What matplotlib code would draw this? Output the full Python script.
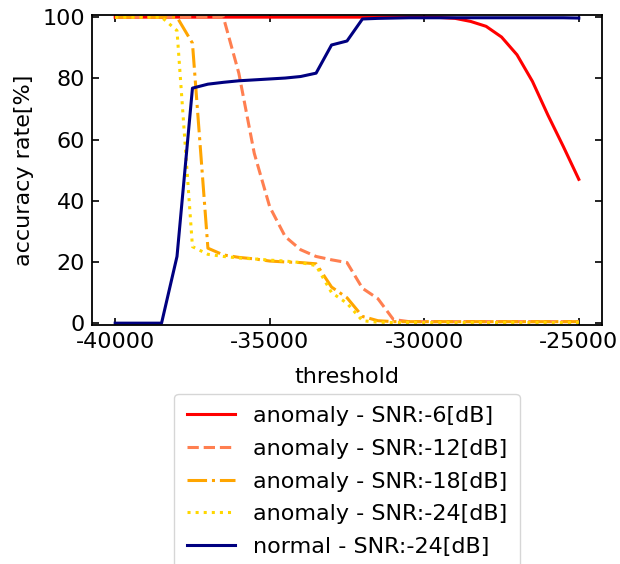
import matplotlib
matplotlib.use("Agg")
import matplotlib.pyplot as plt
import numpy as np

thresholds = [-40000, -39500, -39000, -38500, -38000, -37500, -37000, -36500,
              -36000, -35500, -35000, -34500, -34000, -33500, -33000, -32500,
              -32000, -31500, -31000, -30500, -30000, -29500, -29000, -28500,
              -28000, -27500, -27000, -26500, -26000, -25500, -25000]

anom_6 = [100]*21 + [99.9, 99.6, 98.6, 97.0, 93.5, 87.7, 79.0, 68.0, 57.7, 47.0]
anom_12 = [100]*8 + [81.7, 55.5, 38.0, 28.3, 24.0, 21.8, 20.7, 19.8, 11.4, 8.0,
                     1.2] + [0.5]*12
anom_18 = [100]*5 + [91.5, 24.5, 22.3, 21.5, 21.0, 20.3, 20.0, 19.8, 19.4, 11.8,
                     8.3, 2.2, 0.8] + [0.5]*13
anom_24 = [100]*4 + [95.6, 25.0, 22.5, 21.8, 21.3, 21.0, 20.6, 20.3, 19.8, 18.8,
                     10.0, 6.5, 0.8, 0.3] + [0.2]*13
normal_24 = [0, 0, 0, 0, 21.8, 76.8, 78.1, 78.7, 79.2, 79.5, 79.8, 80.1, 80.6,
             81.7, 90.9, 92.2, 99.4, 99.6, 99.7] + [99.8]*11 + [99.7]

labels = ["anomaly - SNR:-6[dB]", "anomaly - SNR:-12[dB]", "anomaly - SNR:-18[dB]",
          "anomaly - SNR:-24[dB]", "normal - SNR:-24[dB]"]

plt.rcParams['font.family'] = ['DejaVu Sans']
plt.rcParams['font.size'] = 16
plt.rcParams['axes.unicode_minus'] = False

fig = plt.figure(figsize=(6.2, 5.64), dpi=100)
ax = fig.add_axes([92/620, 1-325/564, (602-92)/620, (325-15)/564])

lw = 2.2
ax.plot(thresholds, anom_6, color='red', lw=lw, ls='-', label=labels[0])
ax.plot(thresholds, anom_12, color='coral', lw=lw, ls='--', label=labels[1])
ax.plot(thresholds, anom_18, color='orange', lw=lw, ls='-.', label=labels[2])
ax.plot(thresholds, anom_24, color='gold', lw=lw, ls=':', label=labels[3])
ax.plot(thresholds, normal_24, color='navy', lw=lw, ls='-', label=labels[4])

ax.set_xlim(-40750, -24250)
ax.set_ylim(-0.6, 100.7)
ax.set_xticks([-40000, -35000, -30000, -25000])
ax.set_yticks([0, 20, 40, 60, 80, 100])
ax.tick_params(direction='in', top=True, right=True, labelsize=16, width=1.2,
               length=5, pad=5)
for s in ax.spines.values():
    s.set_linewidth(1.3)
ax.set_xlabel("threshold", fontsize=16, labelpad=11)
ax.set_ylabel("accuracy rate[%]", fontsize=16, labelpad=6)

fig.legend(loc='upper center', bbox_to_anchor=(347/620, 1-394/564),
           bbox_transform=fig.transFigure, borderaxespad=0, fontsize=16,
           handlelength=2.2, labelspacing=0.57, borderpad=0.55)

fig.savefig("out.png", dpi=100)
